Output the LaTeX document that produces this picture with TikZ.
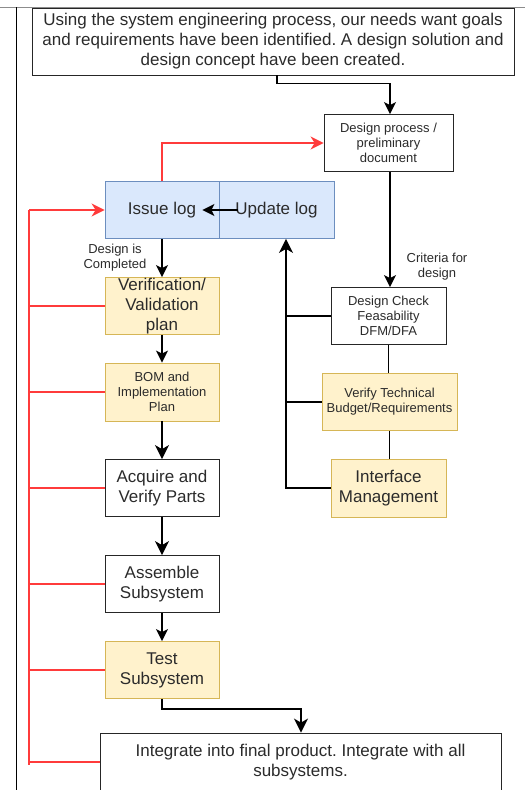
\documentclass[tikz,border=0pt]{standalone}
\usepackage{fontspec}
\setmainfont{Liberation Sans}
\usetikzlibrary{arrows.meta,positioning,calc}
\definecolor{blueFill}{HTML}{DAE8FC}
\definecolor{blueLine}{HTML}{6C8EBF}
\definecolor{yellowFill}{HTML}{FFF2CC}
\definecolor{yellowLine}{HTML}{D6B656}
\definecolor{redLoop}{HTML}{FF3B3B}
\definecolor{textGrey}{HTML}{2B2B2B}
\frenchspacing

\begin{document}
\begin{tikzpicture}[
      x=1pt, y=-1pt,
      box/.style={
        rectangle, draw=black!85, fill=white, line width=0.8pt,
        text=textGrey, align=center, font=\fontsize{17pt}{20pt}\selectfont,
        minimum width=114pt, minimum height=57pt, inner xsep=2pt, inner ysep=0pt
      },
      smallbox/.style={box, font=\fontsize{13pt}{15pt}\selectfont},
      logbox/.style={box, fill=blueFill, draw=blueLine},
      taskfill/.style={fill=yellowFill, draw=yellowLine},
      note/.style={text=textGrey, align=center, font=\fontsize{13pt}{15pt}\selectfont, inner sep=0pt},
      arrow/.style={-{Stealth[length=12pt, width=12pt, inset=3pt]}, draw=black, line width=1.7pt},
      bigarrow/.style={arrow, -{Stealth[length=14pt, width=14pt, inset=4pt]}},
      link/.style={draw=black, line width=1.7pt},
      redline/.style={draw=redLoop, line width=1.7pt},
      redarrow/.style={redline, -{Stealth[length=13pt, width=13pt, inset=4pt]}}
    ]
      \clip (0,0) rectangle (525,790);
      \draw[black!45, line width=0.8pt] (0,7) -- (525,7);
      \draw[black, line width=1pt] (16,7) -- (16,790);

      \node[box, minimum width=482pt, minimum height=67pt] (goal) at (273,41.5)
        {Using the system engineering process, our needs want goals\\and requirements have been identified. A design solution and\\design concept have been created.};
      \node[smallbox, minimum width=129pt] (design) at (388.5,143) {Design process /\\preliminary\\document};
      \node[logbox] (issue) at (162,210) {Issue log};
      \node[logbox, minimum width=115pt] (upd) at (276.5,210) {Update log};
      \node[box, taskfill] (verif) at (162,306) {Verification/\\Validation\\plan};
      \node[smallbox, taskfill, minimum height=58pt] (bom) at (162,392) {BOM and\\Implementation\\Plan};
      \node[box] (acq) at (162,488) {Acquire and\\Verify Parts};
      \node[box] (asm) at (162,584) {Assemble\\Subsystem};
      \node[box, taskfill] (test) at (162,670) {Test\\Subsystem};
      \node[box, minimum width=401pt, minimum height=58pt] (integ) at (300.5,762)
        {Integrate into final product. Integrate with all\\subsystems.};
      \node[smallbox, minimum width=115pt] (check) at (388.5,316) {Design Check\\Feasability\\DFM/DFA};
      \node[smallbox, taskfill, minimum width=135pt] (budget) at (389.5,402) {Verify Technical\\Budget/Requirements};
      \node[box, taskfill, minimum width=115pt, minimum height=58pt] (iface) at (388.5,488) {Interface\\Management};
      \node[note] (done) at (115,257.5) {Design is\\Completed};
      \node[note] (crit) at (437,266.5) {Criteria for\\design};

      % main flow
      \draw[arrow] ([xshift=4pt]goal.south) -- ++(0,8) -| ([xshift=1.5pt]design.north);
      \draw[redarrow] (issue.north) |- (design.west);
      \draw[arrow] ([xshift=19pt]upd.west) -- ([xshift=-17pt]issue.east);
      \draw[arrow] (issue.south) -- (verif.north);
      \draw[arrow] (verif.south) -- (bom.north);
      \draw[bigarrow] (bom.south) -- (acq.north);
      \draw[bigarrow] (acq.south) -- (asm.north);
      \draw[arrow] (asm.south) -- (test.north);
      \draw[bigarrow] (test.south) -- ++(0,10) -| ([xshift=0.5pt]integ.north);

      % red loop back to issue log
      \coordinate (busTop) at (29,210);
      \coordinate (busBot) at (29,765);
      \draw[redarrow] (busTop) -- (issue.west);
      \draw[redline] (busTop) -- (busBot);
      \foreach \n in {verif,bom,acq,asm,test,integ}
        \draw[redline] (\n.west) -- (\n.west -| busTop);

      % design checks
      \draw[arrow] ([xshift=1.5pt]design.south) -- ([xshift=1.5pt]check.north);
      \draw[link] (check.south) -- (check.south |- budget.north);
      \draw[link] (budget.south) -- (budget.south |- iface.north);
      \coordinate (fb) at ([xshift=9.5pt]upd.south);
      \draw[bigarrow] (iface.west) -| (fb);
      \draw[link, line width=1.2pt] (check.west) -- (check.west -| fb);
      \draw[link, line width=1.2pt] (budget.west) -- (budget.west -| fb);
    \end{tikzpicture}
\end{document}
